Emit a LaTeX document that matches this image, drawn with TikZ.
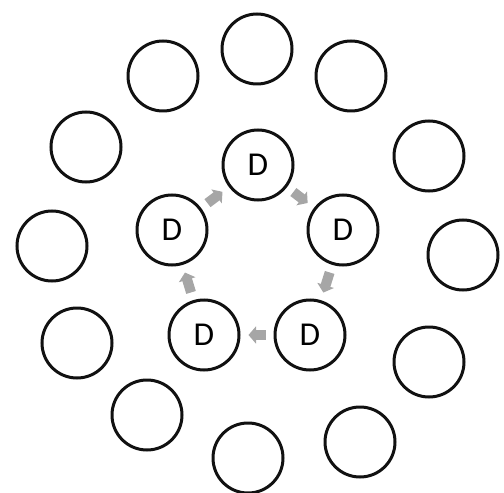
\documentclass[tikz,border=0pt]{standalone}
\usepackage{fontspec}
\setmainfont{Carlito}
\usetikzlibrary{arrows.meta}
\definecolor{cRing}{HTML}{111111}
\definecolor{cFlow}{HTML}{A6A6A6}

\begin{document}
\begin{tikzpicture}[
  cell/.style={circle, draw=cRing, line width=.06cm, minimum size=1.40cm,
               inner sep=0pt, font=\fontsize{19}{22}\selectfont},
  flow/.style={-{Triangle[length=.15cm,width=.34cm]}, line width=.2cm,
               draw=cFlow, shorten <=.16cm, shorten >=.16cm},
]
\useasboundingbox (0,0) rectangle (10.08,9.84);

% ---------------- outer ring ----------------
\foreach \n/\x/\y in {1/5.14/8.86, 2/3.26/8.32, 3/7.02/8.32, 4/1.72/6.90,
                      5/8.58/6.72, 6/1.04/4.92, 7/9.26/4.74, 8/1.54/2.98,
                      9/8.58/2.60, 10/2.94/1.54, 11/7.20/1.00, 12/4.96/0.68}{
  \node[cell] (o\n) at (\x,\y) {};}

% ---------------- inner ring ----------------
\node[cell] (dT)  at (5.16,6.54) {D};
\node[cell] (dR)  at (6.86,5.24) {D};
\node[cell] (dBR) at (6.20,3.14) {D};
\node[cell] (dBL) at (4.08,3.14) {D};
\node[cell] (dL)  at (3.44,5.24) {D};

\draw[flow] (dL) -- (dT);
\draw[flow] (dT) -- (dR);
\draw[flow] (dR) -- (dBR);
\draw[flow] (dBR) -- (dBL);
\draw[flow] (dBL) -- (dL);

\end{tikzpicture}
\end{document}
